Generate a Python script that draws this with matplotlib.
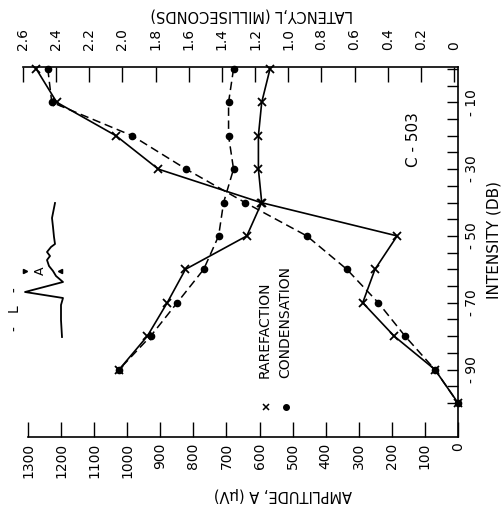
import matplotlib
matplotlib.use("Agg")
import matplotlib.pyplot as plt
from matplotlib.lines import Line2D

# ---- data -------------------------------------------------------------
intensity_db = [0, -10, -20, -30, -40, -50, -60, -70, -80, -90, -100]
amp_rarefaction = [1275, 1213, 1034, 906, 596, 184, 251, 288, 193, 70, 0]
amp_condensation = [1240, 1228, 985, 822, 644, 457, 336, 241, 160, 70, 0]

latency_db = [0, -10, -20, -30, -40, -50, -60, -70, -80, -90]
lat_rarefaction = [1.11, 1.16, 1.18, 1.18, 1.16, 1.25, 1.62, 1.73, 1.85, 2.02]
lat_condensation = [1.33, 1.36, 1.36, 1.33, 1.39, 1.42, 1.51, 1.67, 1.83, 2.02]

amp_ticks = list(range(0, 1301, 100))
lat_ticks = [0, 0.2, 0.4, 0.6, 0.8, 1.0, 1.2, 1.4, 1.6, 1.8, 2.0, 2.2, 2.4, 2.6]
lat_labels = ["0", "0.2", "0.4", "0.6", "0.8", "1.0", "1.2", "1.4", "1.6",
              "1.8", "2.0", "2.2", "2.4", "2.6"]
db_ticks = list(range(0, -101, -5))
db_labeled = {-10: "- 10", -30: "- 30", -50: "- 50", -70: "- 70", -90: "- 90"}

# schematic click response (time runs upward, positive voltage to the left)
wave_time = [0.3, 2.0, 3.5, 4.2, 4.8, 5.8, 6.4, 6.9, 7.4, 8.0, 8.4, 8.8,
             9.3, 9.6, 10.3, 11.3, 12.2, 13.7]
wave_volt = [0.0, 0.1, 0.1, -0.1, 3.7, -0.1, 0.6, 0.9, 1.3, 1.5, 1.2, 1.5,
             1.1, 0.7, 0.8, 0.9, 1.0, 0.7]

# ---- figure -------------------------------------------------------------
W, H = 504, 511
fig = plt.figure(figsize=(W / 100, H / 100), dpi=100)


def fx(px):
    return px / W


def fy(py):
    return 1 - py / H


FS = 10
ax = fig.add_axes([fx(23), fy(437), fx(458) - fx(23), fy(67) - fy(437)])
ax.set_xlim(1315, 0)
ax.set_ylim(-110.2, 0.57)
ax2 = ax.twiny()
ax2.set_xlim(2.6, -0.024)

for s in ("left", "top"):
    ax.spines[s].set_visible(False)
for s in ("left", "right", "bottom"):
    ax2.spines[s].set_visible(False)
ax.spines["bottom"].set_bounds(0, 1300)
for sp in (ax.spines["bottom"], ax.spines["right"], ax2.spines["top"]):
    sp.set_linewidth(1.2)

# amplitude axis
ax.set_xticks(amp_ticks, labels=[str(v) for v in amp_ticks])
ax.tick_params(axis="x", direction="in", length=10.8, width=1.0, pad=4,
               labelsize=FS, labelrotation=90)

# intensity axis on the right
ax.yaxis.tick_right()
ax.set_yticks(db_ticks, labels=[db_labeled.get(t, "") for t in db_ticks])
ax.tick_params(axis="y", direction="in", length=8, width=1.0, pad=5,
               labelsize=FS, labelrotation=90)
plt.setp(ax.get_yticklabels(), va="center")

# latency axis on top
ax2.set_xticks(lat_ticks, labels=lat_labels)
ax2.tick_params(axis="x", direction="in", length=10.8, width=1.0, pad=12,
                labelsize=FS, labelrotation=90)

dash = (0, (5.5, 3))
solid_kw = dict(color="black", lw=1.2, marker="x", ms=6, mew=1.3, clip_on=False)
dashed_kw = dict(color="black", lw=1.1, ls=dash, marker="o", ms=4.5, clip_on=False)

ax.plot(amp_rarefaction, intensity_db, **solid_kw)
ax.plot(amp_condensation, intensity_db, **dashed_kw)
ax2.plot(lat_rarefaction, latency_db, **solid_kw)
ax2.plot(lat_condensation, latency_db, **dashed_kw)

# axis titles
fig.text(fx(252), fy(15), "LATENCY,L (MILLISECONDS)", rotation=180,
         ha="center", va="center", fontsize=10.5)
fig.text(fx(283), fy(494), "AMPLITUDE, A (\u03bcV)", rotation=180,
         ha="center", va="center", fontsize=10.5)
fig.text(fx(494), fy(240), "INTENSITY (DB)", rotation=90,
         ha="center", va="center", fontsize=11)
fig.text(fx(414), fy(140), "C - 503", rotation=90,
         ha="center", va="center", fontsize=11)

# legend
fig.text(fx(265), fy(378), "RAREFACTION", rotation=90, ha="center",
         va="bottom", fontsize=FS)
fig.text(fx(285), fy(378), "CONDENSATION", rotation=90, ha="center",
         va="bottom", fontsize=FS)
fig.add_artist(Line2D([fx(266)], [fy(407)], marker="x", ms=4, mew=1.1,
                      color="black", transform=fig.transFigure))
fig.add_artist(Line2D([fx(286)], [fy(407)], marker="o", ms=4,
                      color="black", transform=fig.transFigure))

# inset sketch of the response with the measured quantities
inset = fig.add_axes([fx(10), fy(342), fx(70) - fx(10), fy(198) - fy(342)])
inset.set_xlim(5.2, -0.8)
inset.set_ylim(-0.2, 14.2)
inset.axis("off")
inset.plot(wave_volt, wave_time, color="black", lw=1.3)
inset.plot([3.75], [6.9], marker=">", ms=3, color="black")
inset.plot([0.2], [6.9], marker="<", ms=3, color="black")
fig.text(fx(40), fy(271), "A", rotation=90, ha="center", va="center", fontsize=9)
fig.text(fx(15), fy(309), "-   L   -", rotation=90, ha="center", va="center",
         fontsize=FS)

fig.savefig("out.png", dpi=100)
